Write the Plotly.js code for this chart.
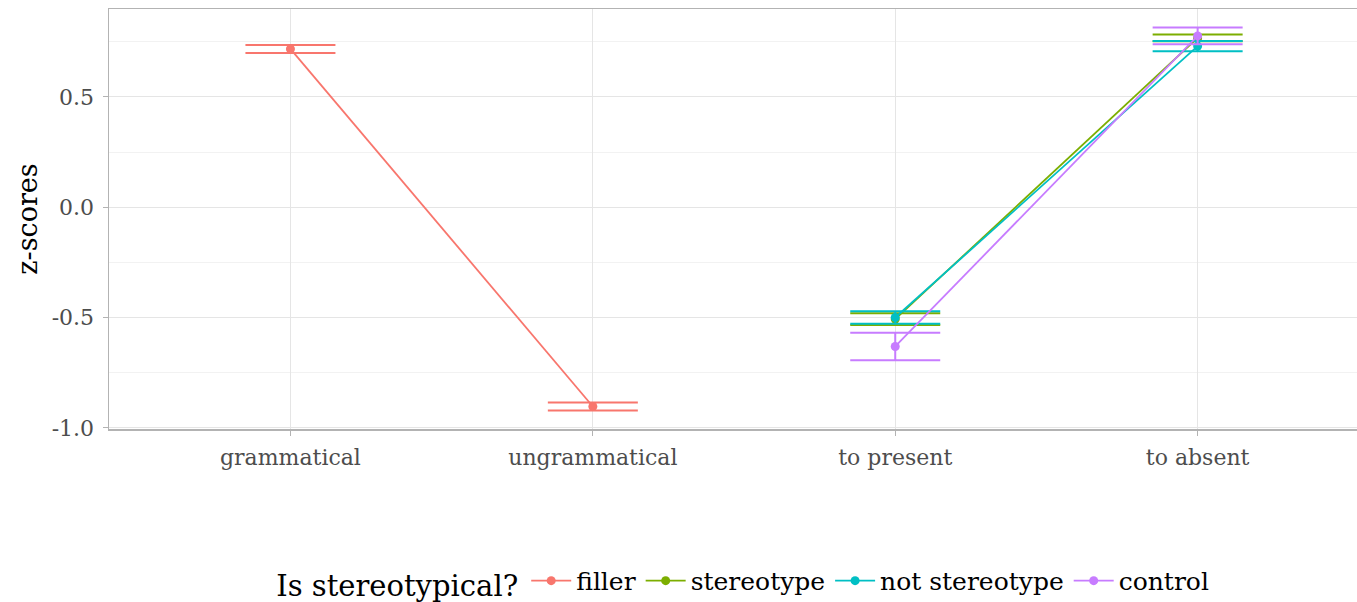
<!DOCTYPE html>
<html><head><meta charset="utf-8">
<script src="https://cdn.plot.ly/plotly-3.0.1.min.js"></script>
<style>body{margin:0;padding:0;background:#fff}</style>
</head><body>
<div id="chart" style="width:1357px;height:602px"></div>
<script>
const categories = ["grammatical", "ungrammatical", "to present", "to absent"];
const seriesNames = ["filler", "stereotype", "not stereotype", "control"];
const colors = ["#F8766D", "#7CAE00", "#00BFC4", "#C77CFF"];

const fillerX = ["grammatical", "ungrammatical"];
const fillerY = [0.717, -0.903];
const fillerErr = [0.018, 0.018];

const stereoX = ["to present", "to absent"];
const stereoY = [-0.507, 0.767];
const stereoErr = [0.027, 0.015];

const notStereoX = ["to present", "to absent"];
const notStereoY = [-0.500, 0.730];
const notStereoErr = [0.028, 0.023];

const controlX = ["to present", "to absent"];
const controlY = [-0.631, 0.776];
const controlErr = [0.062, 0.038];

const xs = [fillerX, stereoX, notStereoX, controlX];
const ys = [fillerY, stereoY, notStereoY, controlY];
const es = [fillerErr, stereoErr, notStereoErr, controlErr];

const traces = seriesNames.map((n, i) => ({
  type: "scatter", mode: "lines+markers", name: n,
  x: xs[i], y: ys[i],
  line: {color: colors[i], width: 1.8},
  marker: {color: colors[i], size: 9},
  error_y: {type: "data", array: es[i], visible: true, color: colors[i], thickness: 2, width: 45}
}));

const font = "'DejaVu Serif', 'Liberation Serif', serif";
const layout = {
  width: 1357, height: 602,
  margin: {l: 109, r: 0, t: 9, b: 173, autoexpand: false},
  paper_bgcolor: "#fff", plot_bgcolor: "#fff",
  font: {family: font, color: "#4d4d4d"},
  showlegend: true,
  xaxis: {
    type: "category", categoryorder: "array", categoryarray: categories,
    range: [-0.6, 3.527],
    showgrid: true, gridcolor: "#e5e5e5", gridwidth: 1,
    showline: true, linecolor: "#b3b3b3", linewidth: 1.5, mirror: true,
    ticks: "outside", ticklen: 5, tickcolor: "#b3b3b3",
    ticklabelstandoff: 3,
    tickfont: {family: font, size: 22, color: "#4d4d4d"},
    zeroline: false
  },
  yaxis: {
    range: [-1.005, 0.898],
    tickvals: [-1.0, -0.5, 0.0, 0.5],
    ticktext: ["-1.0", "-0.5", "0.0", "0.5"],
    showgrid: true, gridcolor: "#e5e5e5", gridwidth: 1,
    minor: {tickvals: [-0.75, -0.25, 0.25, 0.75], showgrid: true, gridcolor: "#f2f2f2", gridwidth: 1, ticks: ""},
    showline: true, linecolor: "#b3b3b3", linewidth: 1.5, mirror: true,
    ticks: "outside", ticklen: 5, tickcolor: "#b3b3b3",
    ticklabelstandoff: 4,
    tickfont: {family: font, size: 22, color: "#4d4d4d"},
    zeroline: false,
    title: {text: "z-scores", font: {family: font, size: 27, color: "#000"}, standoff: 6}
  },
  legend: {
    orientation: "h", x: 0.509, xanchor: "center", y: -0.364, yanchor: "middle",
    title: {text: "Is stereotypical?", font: {family: font, size: 29, color: "#000"}, side: "left"},
    font: {family: font, size: 25, color: "#000"},
    itemwidth: 40
  }
};

Plotly.newPlot("chart", traces, layout, {displayModeBar: false, staticPlot: true});
</script>
</body></html>
